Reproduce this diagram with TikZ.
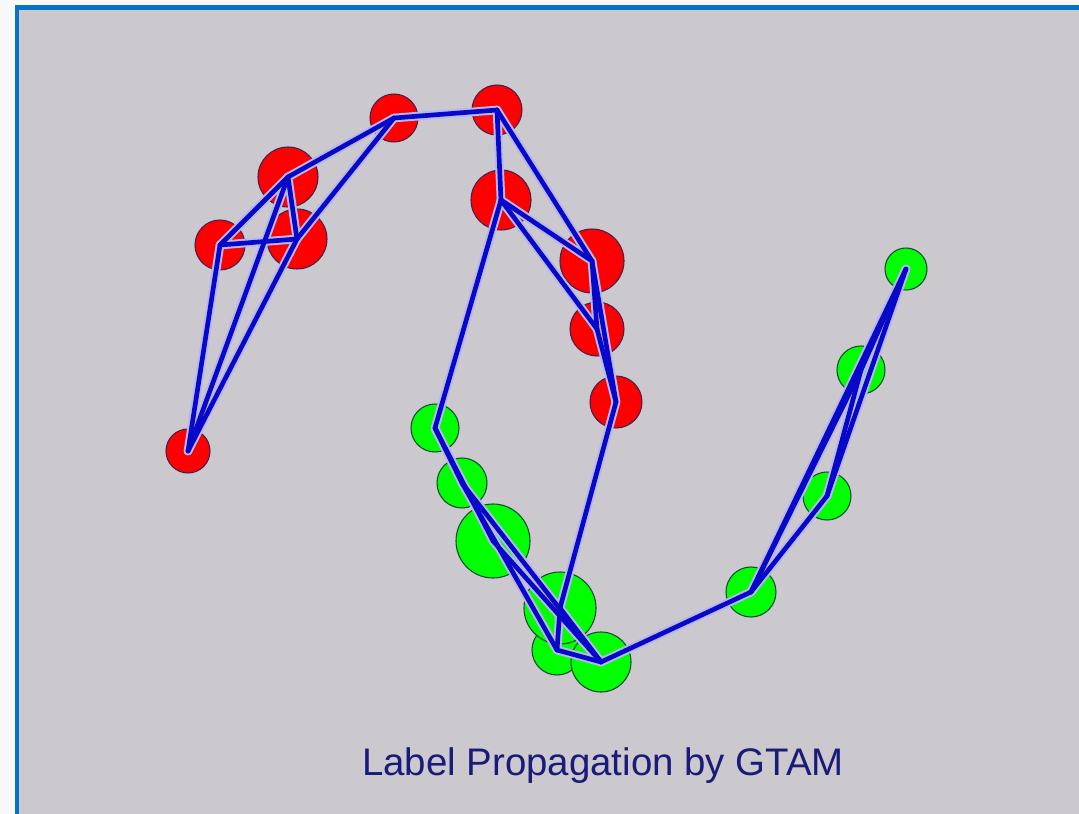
\documentclass[tikz,border=0pt]{standalone}
\usepackage{fontspec}
\newfontfamily\labelfont{Liberation Sans}
\definecolor{pagebg}{RGB}{248,248,248}
\definecolor{panelbg}{RGB}{203,201,205}
\definecolor{frameblue}{RGB}{8,116,198}
\definecolor{edgeblue}{RGB}{8,8,200}
\definecolor{edgehalo}{RGB}{184,184,238}
\definecolor{redfill}{RGB}{255,0,0}
\definecolor{redline}{RGB}{70,30,80}
\definecolor{greenfill}{RGB}{0,255,0}
\definecolor{greenline}{RGB}{20,70,60}
\definecolor{titleblue}{RGB}{26,26,122}
\tikzset{
  rnode/.style={circle, inner sep=0pt, fill=redfill, draw=redline, line width=0.8pt, minimum size=#1*1.5pt},
  gnode/.style={circle, inner sep=0pt, fill=greenfill, draw=greenline, line width=0.8pt, minimum size=#1*1.5pt},
  halo/.style={draw=edgehalo, line width=6.5pt, line cap=round},
  edge/.style={draw=edgeblue, line width=3.5pt, line cap=round, line join=round},
}
\begin{document}
\begin{tikzpicture}[x=0.75pt, y=-0.75pt]
  % page, frame and panel
  \fill[pagebg] (0,0) rectangle (1079,814);
  \fill[frameblue] (15,5) rectangle (1079,814);
  \fill[panelbg] (19,10) rectangle (1079,814);
  \useasboundingbox (0,0) rectangle (1079,814);

  % red class
  \node[rnode=22] (R1) at (188,451) {};
  \node[rnode=25] (R2) at (220,245) {};
  \node[rnode=30] (R3) at (288,177) {};
  \node[rnode=30] (R4) at (297,239) {};
  \node[rnode=24] (R5) at (394,118) {};
  \node[rnode=25] (R6) at (497,110) {};
  \node[rnode=30] (R7) at (501,200) {};
  \node[rnode=32] (R8) at (592,261) {};
  \node[rnode=27] (R9) at (597,329) {};
  \node[rnode=26] (R10) at (616,402) {};

  % green class
  \node[gnode=24] (G1) at (435,428) {};
  \node[gnode=25] (G2) at (462,483) {};
  \node[gnode=37] (G3) at (493,541) {};
  \node[gnode=25] (G5) at (557,650) {};
  \node[gnode=36] (G4) at (560,608) {};
  \node[gnode=30] (G6) at (601,662) {};
  \node[gnode=25] (G7) at (751,592) {};
  \node[gnode=24] (G8) at (827,496) {};
  \node[gnode=24] (G9) at (861,370) {};
  \node[gnode=21] (G10) at (906,269) {};

  % graph edges: soft halo first, then the lines
  \def\edgelist{R1/R2, R1/R3, R1/R4, R2/R3, R2/R4, R3/R4, R3/R5, R4/R5,
    R5/R6, R6/R7, R6/R8, R7/R8, R7/R9, R8/R9, R8/R10, R9/R10, R7/G1, R10/G4,
    G1/G2, G1/G3, G2/G5, G2/G6, G3/G6, G4/G5, G5/G6, G4/G6, G6/G7,
    G7/G8, G7/G9, G7/G10, G8/G9, G8/G10, G9/G10}
  \foreach \a/\b in \edgelist { \draw[halo] (\a.center) -- (\b.center); }
  \foreach \a/\b in \edgelist { \draw[edge] (\a.center) -- (\b.center); }

  % caption
  \node[anchor=base, inner sep=0pt, text=titleblue,
        font=\labelfont\fontsize{28.8}{34}\selectfont] (title) at (603,775)
        {Label Propagation by GTAM};
\end{tikzpicture}
\end{document}
